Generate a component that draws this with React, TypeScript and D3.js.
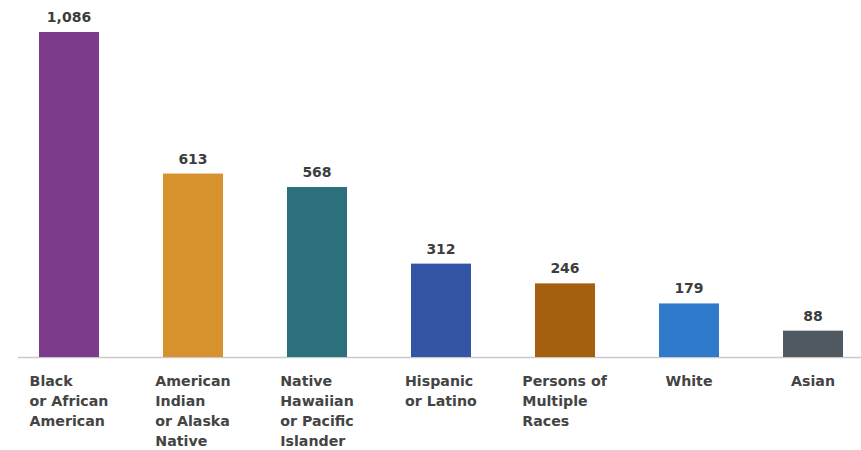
import React, { useEffect, useRef } from "react";
import * as d3 from "d3";

const categories: string[][] = [
  ["Black", "or African", "American"],
  ["American", "Indian", "or Alaska", "Native"],
  ["Native", "Hawaiian", "or Pacific", "Islander"],
  ["Hispanic", "or Latino"],
  ["Persons of", "Multiple", "Races"],
  ["White"],
  ["Asian"],
];
const values: number[] = [1086, 613, 568, 312, 246, 179, 88];
const colors: string[] = ["#7d3b8b", "#d7922d", "#2c6f7d", "#3455a6", "#a5600f", "#2f7acb", "#4e5961"];

const W = 861;
const H = 450;
const baseY = 357;

export default function App() {
  const ref = useRef<SVGSVGElement | null>(null);

  useEffect(() => {
    const svg = d3.select(ref.current);
    svg.selectAll("*").remove();

    const x = d3
      .scaleBand<number>()
      .domain(d3.range(values.length))
      .range([7, 875])
      .paddingInner(0.516)
      .paddingOuter(0.258);
    const y = d3.scaleLinear().domain([0, 1086]).range([baseY, 32]);

    svg
      .append("line")
      .attr("x1", 18)
      .attr("x2", W)
      .attr("y1", baseY + 0.5)
      .attr("y2", baseY + 0.5)
      .attr("stroke", "#c9c9c9")
      .attr("stroke-width", 1.5);

    const g = svg.selectAll("g.bar").data(values).enter().append("g");

    g.append("rect")
      .attr("x", (_d, i) => x(i)!)
      .attr("y", (d) => y(d))
      .attr("width", x.bandwidth())
      .attr("height", (d) => baseY - y(d))
      .attr("fill", (_d, i) => colors[i]);

    g.append("text")
      .attr("x", (_d, i) => x(i)! + x.bandwidth() / 2)
      .attr("y", (d) => y(d) - 10)
      .attr("text-anchor", "middle")
      .attr("font-family", "DejaVu Sans")
      .attr("font-weight", "bold")
      .attr("font-size", 14)
      .attr("fill", "#3d3d3d")
      .text((d) => d3.format(",")(d));

    categories.forEach((lines, i) => {
      const t = svg
        .append("text")
        .attr("font-family", "DejaVu Sans")
        .attr("font-weight", "bold")
        .attr("font-size", 14.2)
        .attr("fill", "#444444");
      lines.forEach((ln, j) => {
        t.append("tspan").attr("x", 0).attr("y", 386 + j * 20).text(ln);
      });
      const node = t.node() as SVGTextElement;
      const w = node.getBBox().width;
      const cx = x(i)! + x.bandwidth() / 2;
      t.attr("transform", `translate(${cx - w / 2},0)`);
    });
  }, []);

  return (
    <svg
      ref={ref}
      width={W}
      height={H}
      style={{ position: "absolute", left: 0, top: 0, background: "#ffffff" }}
    />
  );
}
